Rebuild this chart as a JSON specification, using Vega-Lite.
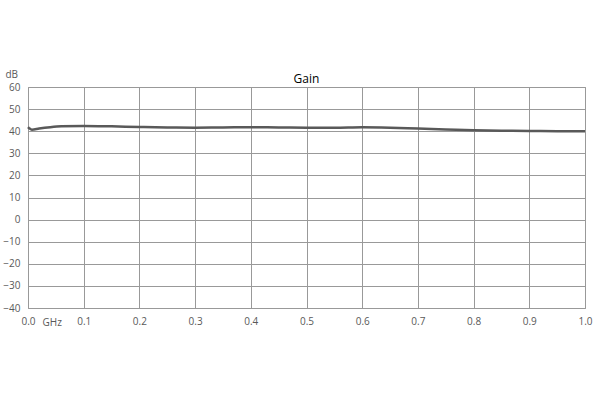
{
  "$schema": "https://vega.github.io/schema/vega-lite/v6.json",
  "width": 557,
  "height": 221,
  "autosize": {"type": "none"},
  "padding": {"left": 28, "top": 87, "right": 15, "bottom": 92},
  "background": "white",
  "title": {
    "text": "Gain",
    "font": "Open Sans",
    "fontSize": 12,
    "fontWeight": "normal",
    "color": "#000000",
    "offset": 4,
    "dy": 21
  },
  "data": {
    "values": [
      {"freq": 0.0, "gain": 41.9},
      {"freq": 0.003, "gain": 41.2},
      {"freq": 0.007, "gain": 40.7},
      {"freq": 0.02, "gain": 41.2},
      {"freq": 0.04, "gain": 41.8},
      {"freq": 0.06, "gain": 42.2},
      {"freq": 0.1, "gain": 42.4},
      {"freq": 0.15, "gain": 42.2},
      {"freq": 0.2, "gain": 41.9},
      {"freq": 0.25, "gain": 41.7},
      {"freq": 0.3, "gain": 41.6},
      {"freq": 0.35, "gain": 41.7},
      {"freq": 0.4, "gain": 41.8},
      {"freq": 0.45, "gain": 41.7},
      {"freq": 0.5, "gain": 41.6},
      {"freq": 0.55, "gain": 41.6},
      {"freq": 0.6, "gain": 41.8},
      {"freq": 0.65, "gain": 41.6},
      {"freq": 0.7, "gain": 41.2},
      {"freq": 0.75, "gain": 40.8},
      {"freq": 0.8, "gain": 40.4},
      {"freq": 0.85, "gain": 40.2},
      {"freq": 0.9, "gain": 40.1},
      {"freq": 0.95, "gain": 40.0},
      {"freq": 1.0, "gain": 40.0}
    ]
  },
  "mark": {
    "type": "line",
    "color": "#595959",
    "strokeWidth": 2.5,
    "interpolate": "monotone"
  },
  "encoding": {
    "x": {
      "field": "freq",
      "type": "quantitative",
      "scale": {"domain": [0, 1], "nice": false},
      "axis": {
        "values": [0, 0.1, 0.2, 0.3, 0.4, 0.5, 0.6, 0.7, 0.8, 0.9, 1.0],
        "format": ".1f",
        "labelFlush": false,
        "title": "GHz",
        "titleAnchor": "start",
        "titleAlign": "left",
        "titleX": 14,
        "titleY": 17,
        "titleBaseline": "alphabetic",
        "titleFontWeight": "normal",
        "titleFontSize": 10,
        "titleColor": "#595959",
        "labelPadding": 8
      }
    },
    "y": {
      "field": "gain",
      "type": "quantitative",
      "scale": {"domain": [-40, 60], "nice": false, "zero": false},
      "axis": {
        "values": [-40, -30, -20, -10, 0, 10, 20, 30, 40, 50, 60],
        "labelFlush": false,
        "title": "dB",
        "titleAngle": 0,
        "titleAlign": "left",
        "titleX": -23,
        "titleY": -10,
        "titleBaseline": "alphabetic",
        "titleFontWeight": "normal",
        "titleFontSize": 10,
        "titleColor": "#595959",
        "labelPadding": 8
      }
    }
  },
  "config": {
    "font": "Open Sans",
    "view": {"stroke": "#999999", "strokeWidth": 1},
    "axis": {
      "grid": true,
      "gridColor": "#999999",
      "gridOpacity": 1,
      "gridWidth": 1,
      "domain": false,
      "ticks": false,
      "labelFont": "Open Sans",
      "labelFontSize": 10,
      "labelColor": "#595959",
      "titleFont": "Open Sans"
    }
  }
}
